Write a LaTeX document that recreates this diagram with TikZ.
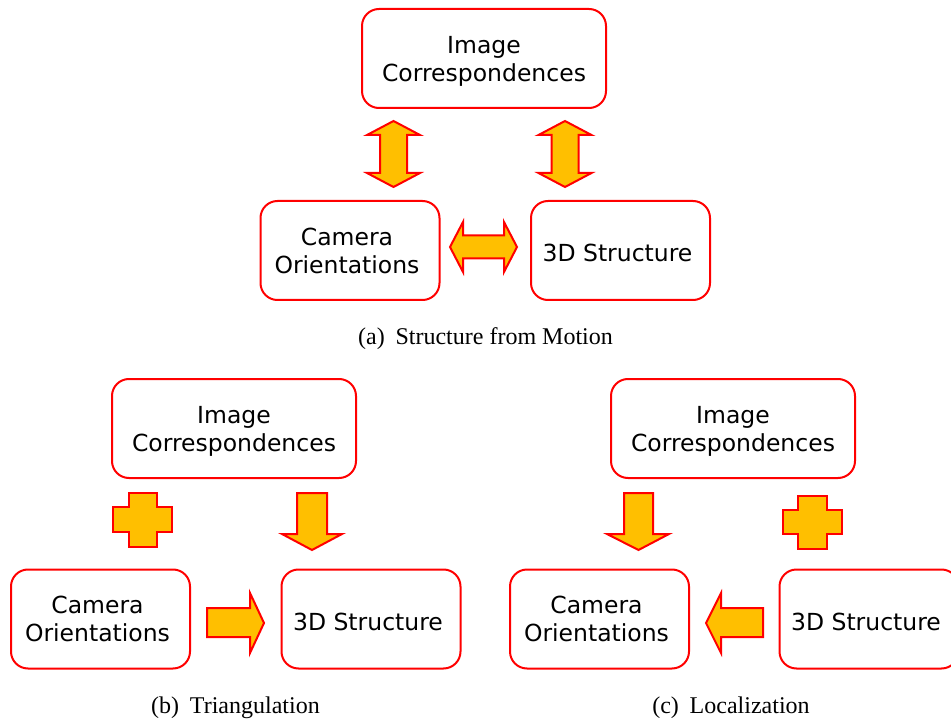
\documentclass[tikz,border=0pt]{standalone}
\usepackage{fontspec}
\setmainfont{Liberation Serif}
\newfontfamily\boxfont{DejaVu Sans}
\definecolor{boxred}{RGB}{255,0,0}
\definecolor{arrowfill}{RGB}{255,191,0}
% box label: #1 = drop below the optical centre, #2 = nudge to the left
\newcommand{\stagetext}[3]{\raisebox{-#1}[\height][\depth]{%
  \begin{tabular}{@{}c@{}}#3\end{tabular}\kern#2}}
\tikzset{
  x=1pt, y=-1pt,
  stage/.style={draw=boxred, line width=2pt, rounded corners=17pt, fill=white,
    minimum height=99pt, align=center, inner sep=0pt,
    font=\boxfont\fontsize{23.5}{28}\selectfont},
  widebox/.style={stage, minimum width=244pt},
  narrowbox/.style={stage, minimum width=179pt},
  blockarrow/.style={draw=boxred, line width=2pt, fill=arrowfill, line join=miter},
  captiontext/.style={font=\fontsize{24}{28}\selectfont, inner sep=0pt}
}
\begin{document}
\begin{tikzpicture}
\path[use as bounding box] (0,0) rectangle (951,722);
\clip (0,0) rectangle (951,722);

% ---------- (a) Structure from Motion ----------
\node[widebox]   (aimg) at (484,58.5)    {\stagetext{3pt}{0pt}{Image\\Correspondences}};
\node[narrowbox] (acam) at (350,250.5)   {\stagetext{3pt}{6pt}{Camera\\Orientations}};
\node[narrowbox] (astr) at (620.5,250.5) {\stagetext{5.5pt}{6pt}{3D Structure}};

% vertical double arrows
\draw[blockarrow] (393.5,121) -- (420,135) -- (407,135) -- (407,173) -- (420,173)
  -- (393.5,187) -- (367,173) -- (380,173) -- (380,135) -- (367,135) -- cycle;
\draw[blockarrow] (565,121) -- (591.5,135) -- (578.5,135) -- (578.5,173) -- (591.5,173)
  -- (565,187) -- (538.5,173) -- (551.5,173) -- (551.5,135) -- (538.5,135) -- cycle;
% horizontal double arrow
\draw[blockarrow] (450,247) -- (463,222) -- (463,235.5) -- (504,235.5) -- (504,222)
  -- (517,247) -- (504,272) -- (504,258.5) -- (463,258.5) -- (463,272) -- cycle;

\node[captiontext] (capa) at (485.5,338.5) {(a)\hspace{0.45em}Structure from Motion};

% ---------- (b) Triangulation ----------
\node[widebox]   (bimg) at (234,428.5) {\stagetext{3pt}{0pt}{Image\\Correspondences}};
\node[narrowbox] (bcam) at (100.5,619) {\stagetext{3pt}{6pt}{Camera\\Orientations}};
\node[narrowbox] (bstr) at (371,619)   {\stagetext{5.5pt}{6pt}{3D Structure}};

% plus sign
\draw[blockarrow] (129,493) -- (157,493) -- (157,507) -- (172,507) -- (172,532)
  -- (157,532) -- (157,547) -- (129,547) -- (129,532) -- (113,532) -- (113,507)
  -- (129,507) -- cycle;
% downward arrow
\draw[blockarrow] (297,493) -- (327,493) -- (327,534) -- (342,534) -- (312,550)
  -- (282,534) -- (297,534) -- cycle;
% right arrow
\draw[blockarrow] (207,608) -- (250,608) -- (250,593) -- (264,623) -- (250,653)
  -- (250,637) -- (207,637) -- cycle;

\node[captiontext] (capb) at (235.5,708) {(b)\hspace{0.45em}Triangulation};

% ---------- (c) Localization ----------
\node[widebox]   (cimg) at (733,428.5) {\stagetext{3pt}{0pt}{Image\\Correspondences}};
\node[narrowbox] (ccam) at (599.5,619) {\stagetext{3pt}{6pt}{Camera\\Orientations}};
\node[narrowbox] (cstr) at (869,619)   {\stagetext{5.5pt}{6pt}{3D Structure}};

% downward arrow
\draw[blockarrow] (624,493) -- (653,493) -- (653,534) -- (669,534) -- (638.5,550)
  -- (607,534) -- (624,534) -- cycle;
% plus sign
\draw[blockarrow] (798,496) -- (827,496) -- (827,510) -- (842,510) -- (842,534)
  -- (827,534) -- (827,549) -- (798,549) -- (798,534) -- (783,534) -- (783,510)
  -- (798,510) -- cycle;
% left arrow
\draw[blockarrow] (763,608) -- (721,608) -- (721,593) -- (706,623) -- (721,653)
  -- (721,637) -- (763,637) -- cycle;

\node[captiontext] (capc) at (731,708) {(c)\hspace{0.45em}Localization};
\end{tikzpicture}
\end{document}
